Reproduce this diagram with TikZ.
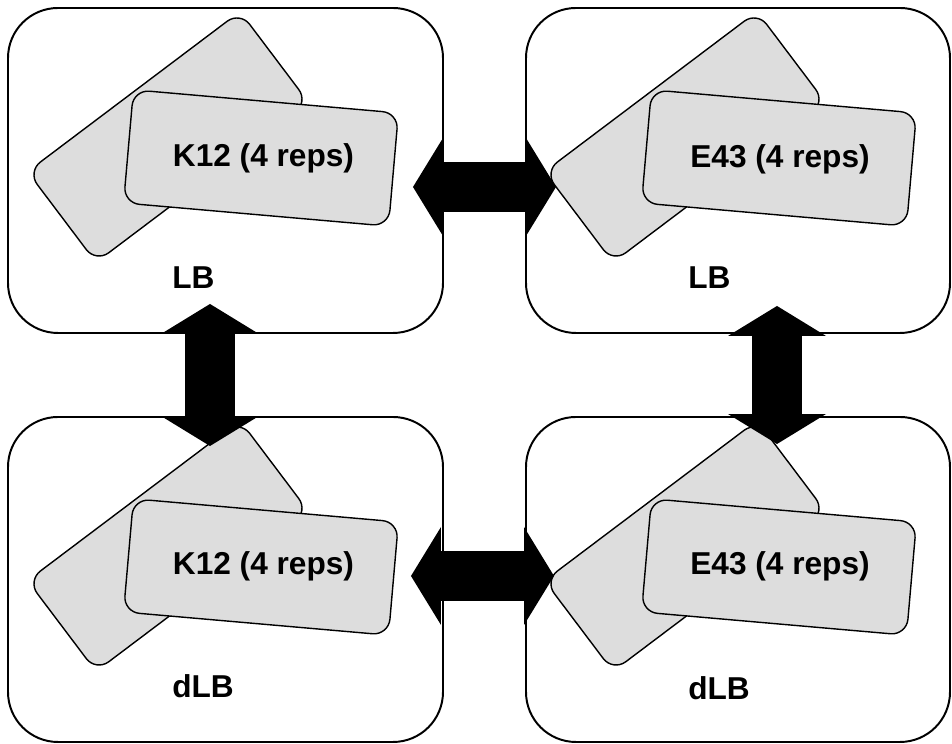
\documentclass[tikz,border=0pt]{standalone}
\usepackage{fontspec}
\setmainfont{Liberation Sans}
\usetikzlibrary{arrows.meta}
\definecolor{repgray}{HTML}{DDDDDD}

\begin{document}
\begin{tikzpicture}[cond box/.style={draw,rounded corners=1.25cm,line width=1.4pt,minimum width=10.875cm,minimum height=8.125cm,inner sep=0pt},
rep box/.style={draw,fill=repgray,rounded corners=0.4cm,line width=1pt,minimum width=6.65cm,minimum height=2.84cm,inner sep=0pt},
rep text/.style={font=\fontsize{22.5}{27}\selectfont\bfseries,anchor=base,inner sep=0pt},
cond text/.style={font=\fontsize{22.5}{27}\selectfont\bfseries,anchor=west,inner sep=0pt},
big arrow/.style={line width=1.25cm,{Triangle[length=0.75cm,width=2.45cm,line width=0pt]}-{Triangle[length=0.75cm,width=2.45cm,line width=0pt]}}]

\useasboundingbox (0,0) rectangle (23.8,18.6);

% K12 in LB
\node[cond box] (k12lb) at (5.6375,14.3375) {};
\node[rep box,rotate=37] (k12lbback) at (4.2,15.175) {};
\node[rep box,rotate=-5] (k12lbfront) at (6.525,14.65) {};
\node[rep text] (k12lbtext) at (6.5875,14.43) {K12 (4 reps)};
\node[cond text] (k12lblabel) at (4.3,11.65) {LB};

% E43 in LB
\node[cond box,minimum width=10.6cm] (e43lb) at (18.45,14.3375) {};
\node[rep box,rotate=37] (e43lbback) at (17.125,15.175) {};
\node[rep box,rotate=-5] (e43lbfront) at (19.475,14.65) {};
\node[rep text] (e43lbtext) at (19.5,14.4) {E43 (4 reps)};
\node[cond text] (e43lblabel) at (17.2,11.65) {LB};

% K12 in dLB
\node[cond box] (k12dlb) at (5.6375,4.1125) {};
\node[rep box,rotate=37] (k12dlbback) at (4.2,4.95) {};
\node[rep box,rotate=-5] (k12dlbfront) at (6.525,4.425) {};
\node[rep text] (k12dlbtext) at (6.5875,4.24) {K12 (4 reps)};
\node[cond text] (k12dlblabel) at (4.3,1.4375) {dLB};

% E43 in dLB
\node[cond box,minimum width=10.6cm] (e43dlb) at (18.45,4.1125) {};
\node[rep box,rotate=37] (e43dlbback) at (17.125,4.95) {};
\node[rep box,rotate=-5] (e43dlbfront) at (19.475,4.425) {};
\node[rep text] (e43dlbtext) at (19.5,4.225) {E43 (4 reps)};
\node[cond text] (e43dlblabel) at (17.2,1.4) {dLB};

% comparisons
\draw[big arrow] ([xshift=-0.775cm,yshift=-0.4125cm]k12lb.east) -- ([xshift=0.775cm,yshift=-0.4125cm]e43lb.west);
\draw[big arrow] ([xshift=-0.825cm,yshift=0.0875cm]k12dlb.east) -- ([xshift=0.725cm,yshift=0.0875cm]e43dlb.west);
\draw[big arrow] ([xshift=-0.3875cm,yshift=0.75cm]k12lb.south) -- ([xshift=-0.3875cm,yshift=-0.75cm]k12dlb.north);
\draw[big arrow] ([xshift=0.975cm,yshift=0.7cm]e43lb.south) -- ([xshift=0.975cm,yshift=-0.7cm]e43dlb.north);
\end{tikzpicture}
\end{document}
